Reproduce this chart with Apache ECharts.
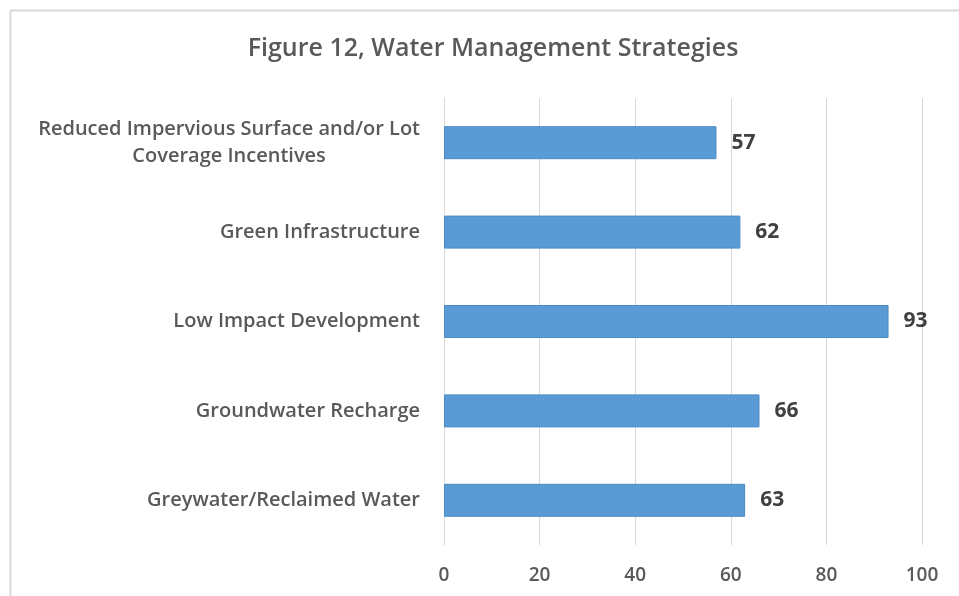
<!DOCTYPE html>
<html>
<head>
<meta charset="utf-8">
<script src="https://cdn.jsdelivr.net/npm/echarts@6/dist/echarts.min.js"></script>
<style>
  html, body { margin: 0; padding: 0; background: #fff; }
  #chart { width: 959px; height: 596px; }
</style>
</head>
<body>
<div id="chart"></div>
<script>
// categories top to bottom
const strategies = [
  'Reduced Impervious Surface and/or Lot\nCoverage Incentives',
  'Green Infrastructure',
  'Low Impact Development',
  'Groundwater Recharge',
  'Greywater/Reclaimed Water'
]
const counts = [57, 62, 93, 66, 63]
const xTicks = [0, 20, 40, 60, 80, 100]

const chart = echarts.init(document.getElementById('chart'))
chart.setOption({
  backgroundColor: '#fff',
  animation: false,
  graphic: [
    {
      type: 'rect',
      left: 8, top: 8,
      shape: { x: 0, y: 0, width: 980, height: 620 },
      style: { fill: 'none', stroke: '#d9d9d9', lineWidth: 2 },
      silent: true
    }
  ],
  title: {
    text: 'Figure 12, Water Management Strategies',
    left: 488,
    textAlign: 'center',
    top: 31,
    textStyle: {
      fontFamily: 'Open Sans',
      fontSize: 25,
      fontWeight: 600,
      color: '#595959'
    }
  },
  grid: {
    left: 444,
    right: 37,
    top: 98,
    bottom: 51,
    containLabel: false
  },
  xAxis: {
    type: 'value',
    min: xTicks[0],
    max: xTicks[xTicks.length - 1],
    interval: 20,
    axisLine: { show: false },
    axisTick: { show: false },
    splitLine: { show: true, lineStyle: { color: '#d9d9d9', width: 1 } },
    axisLabel: {
      margin: 21,
      fontFamily: 'Open Sans',
      fontSize: 19,
      fontWeight: 600,
      color: '#595959'
    }
  },
  yAxis: {
    type: 'category',
    inverse: true,
    data: strategies,
    axisLine: { show: true, lineStyle: { color: '#d9d9d9' } },
    axisTick: { show: false },
    axisLabel: {
      margin: 24,
      lineHeight: 27,
      formatter: function (v) {
        return v.split('\n').map(function (s) { return '{c|' + s + '}' }).join('\n')
      },
      rich: {
        c: {
          align: 'center',
          fontFamily: 'Open Sans',
          fontSize: 20,
          fontWeight: 600,
          color: '#595959',
          lineHeight: 27
        }
      }
    }
  },
  series: [
    {
      type: 'bar',
      data: counts,
      barWidth: 33,
      itemStyle: { color: '#5b9bd5', borderColor: '#4a8ac4', borderWidth: 1 },
      label: {
        show: true,
        position: 'right',
        distance: 15,
        fontFamily: 'Open Sans',
        fontSize: 21,
        fontWeight: 'bold',
        color: '#404040'
      }
    }
  ]
})
</script>
</body>
</html>
